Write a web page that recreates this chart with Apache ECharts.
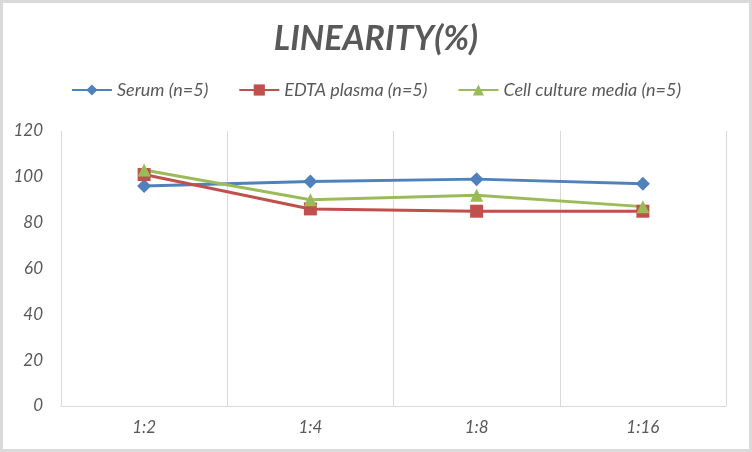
<!DOCTYPE html>
<html>
<head>
<meta charset="utf-8">
<script src="https://cdn.jsdelivr.net/npm/echarts@6/dist/echarts.min.js"></script>
<style>
  html, body { margin: 0; padding: 0; background: #fff; }
  #chart { width: 752px; height: 452px; }
</style>
</head>
<body>
<div id="chart"></div>
<script>
const dilutions = ['1:2', '1:4', '1:8', '1:16'];
const serum = [96, 98, 99, 97];
const edtaPlasma = [101, 86, 85, 85];
const cellCulture = [103, 90, 92, 87];
const seriesNames = ['Serum (n=5)', 'EDTA plasma (n=5)', 'Cell culture media (n=5)'];

const chart = echarts.init(document.getElementById('chart'));
const textColor = '#595959';
const font = 'Lato, "Open Sans", sans-serif';

const line = (name, data, color, symbol, size) => ({
  name,
  type: 'line',
  data,
  symbol,
  symbolSize: size,
  lineStyle: { color, width: 3 },
  itemStyle: { color },
  emphasis: { disabled: true }
});

chart.setOption({
  animation: false,
  backgroundColor: '#fff',
  graphic: [{
    type: 'rect',
    shape: { x: 1.5, y: 1.5, width: 749, height: 449 },
    style: { fill: 'none', stroke: '#d9d9d9', lineWidth: 3 },
    silent: true
  }],
  title: {
    text: 'LINEARITY(%)',
    left: 'center',
    top: 17,
    textStyle: {
      fontFamily: font, fontSize: 34, fontWeight: 'bold', fontStyle: 'italic', color: textColor
    }
  },
  legend: {
    top: 76,
    left: 'center',
    itemWidth: 40,
    itemHeight: 14,
    itemGap: 30,
    data: seriesNames,
    textStyle: { fontFamily: font, fontSize: 18, fontStyle: 'italic', color: textColor }
  },
  grid: { left: 61, right: 26, top: 131, bottom: 46 },
  xAxis: {
    type: 'category',
    data: dilutions,
    boundaryGap: true,
    axisLine: { lineStyle: { color: '#d9d9d9', width: 1 } },
    axisTick: { show: false },
    axisLabel: { fontFamily: font, fontSize: 17, fontStyle: 'italic', color: textColor, margin: 13 },
    splitLine: { show: true, lineStyle: { color: '#d9d9d9', width: 1 } }
  },
  yAxis: {
    type: 'value',
    min: 0,
    max: 120,
    interval: 20,
    axisLine: { show: false },
    axisTick: { show: false },
    splitLine: { show: false },
    axisLabel: { fontFamily: font, fontSize: 17, fontStyle: 'italic', color: textColor, margin: 18 }
  },
  series: [
    line(seriesNames[0], serum, '#4F81BD', 'diamond', 14),
    line(seriesNames[1], edtaPlasma, '#C0504D', 'rect', 13),
    line(seriesNames[2], cellCulture, '#9BBB59', 'triangle', 13)
  ]
});
</script>
</body>
</html>
